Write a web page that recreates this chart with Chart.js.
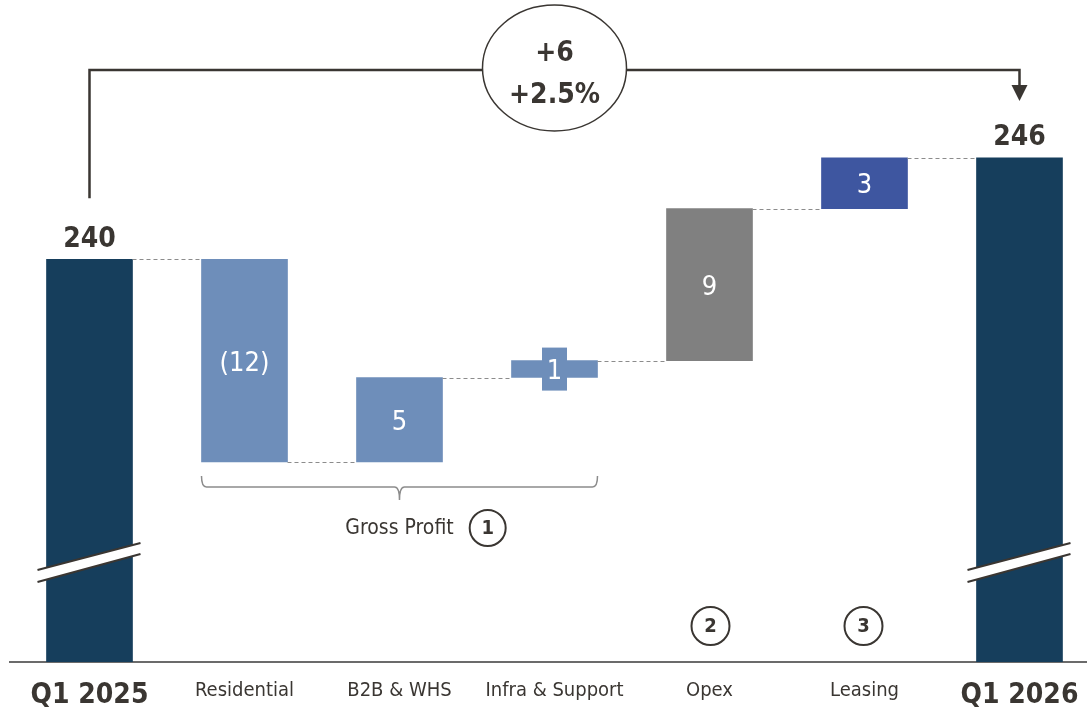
<!DOCTYPE html>
<html>
<head>
<meta charset="utf-8">
<script src="https://cdn.jsdelivr.net/npm/chart.js@4"></script>
<style>
  html, body { margin: 0; padding: 0; background: #fff; }
  canvas { display: block; }
</style>
</head>
<body>
<canvas id="myChart" width="1087" height="709"></canvas>
<script>
const categories = ["Q1 2025", "Residential", "B2B & WHS", "Infra & Support", "Opex", "Leasing", "Q1 2026"];
const startValue = 240;
const endValue = 246;
const changes = [-12, 5, 1, 9, 3];
const changeLabels = ["(12)", "5", "1", "9", "3"];
const totalChange = "+6";
const totalChangePct = "+2.5%";
const barColors = ["#163e5c", "#6e8eba", "#6e8eba", "#6e8eba", "#808080", "#3e56a0", "#163e5c"];

// y axis is cut: bars start from this floor instead of zero
const axisMin = 216.16;
const axisMax = 255.35;

const FONT = "'DejaVu Sans Condensed', 'DejaVu Sans', sans-serif";
const TEXT = "#3a3632";

// build floating bars and the running levels between them
let running = startValue;
const floating = [[axisMin, startValue]];
const levels = [startValue];
changes.forEach(c => {
  floating.push([running, running + c]);
  running += c;
  levels.push(running);
});
floating.push([axisMin, endValue]);

function circledNumber(ctx, text, cx, cy, r) {
  ctx.beginPath();
  ctx.arc(cx, cy, r, 0, Math.PI * 2);
  ctx.lineWidth = 2;
  ctx.strokeStyle = TEXT;
  ctx.stroke();
  ctx.fillStyle = TEXT;
  ctx.font = "bold 20px " + FONT;
  ctx.textAlign = "center";
  ctx.textBaseline = "middle";
  ctx.fillText(text, cx, cy + 1);
}

const waterfallExtras = {
  id: "waterfallExtras",
  afterDatasetsDraw(chart) {
    const ctx = chart.ctx;
    const yScale = chart.scales.y;
    const bars = chart.getDatasetMeta(0).data;
    const area = chart.chartArea;
    ctx.save();

    // dashed connectors between neighbouring bars
    ctx.strokeStyle = "#8c8c8c";
    ctx.lineWidth = 1;
    ctx.setLineDash([4, 3]);
    levels.forEach((lv, i) => {
      const py = Math.round(yScale.getPixelForValue(lv)) + 0.5;
      ctx.beginPath();
      ctx.moveTo(bars[i].x + bars[i].width / 2, py);
      ctx.lineTo(bars[i + 1].x - bars[i + 1].width / 2, py);
      ctx.stroke();
    });
    ctx.setLineDash([]);

    // change labels inside the bars
    ctx.textAlign = "center";
    ctx.textBaseline = "middle";
    changeLabels.forEach((label, k) => {
      const bar = bars[k + 1];
      const cy = (bar.y + bar.base) / 2;
      if (Math.abs(bar.base - bar.y) < 30) {
        ctx.fillStyle = barColors[k + 1];
        ctx.fillRect(bar.x - 12.5, cy - 21.5, 25, 43);
      }
      ctx.fillStyle = "#ffffff";
      ctx.font = "27px " + FONT;
      ctx.fillText(label, bar.x, cy + 3);
    });

    // totals above the end bars
    ctx.fillStyle = TEXT;
    ctx.font = "bold 28px " + FONT;
    ctx.fillText(String(startValue), bars[0].x, bars[0].y - 20);
    ctx.fillText(String(endValue), bars[6].x, bars[6].y - 20);

    // axis break marks on the end bars
    const y0 = yScale.getPixelForValue(222.08);
    [bars[0], bars[6]].forEach(bar => {
      const l = bar.x - 52, r = bar.x + 51;
      ctx.beginPath();
      ctx.moveTo(l, y0 + 8);
      ctx.lineTo(r, y0 - 19);
      ctx.lineTo(r, y0 - 8);
      ctx.lineTo(l, y0 + 20);
      ctx.closePath();
      ctx.fillStyle = "#ffffff";
      ctx.fill();
      ctx.strokeStyle = TEXT;
      ctx.lineWidth = 2;
      ctx.beginPath();
      ctx.moveTo(l, y0 + 8);
      ctx.lineTo(r, y0 - 19);
      ctx.moveTo(l, y0 + 20);
      ctx.lineTo(r, y0 - 8);
      ctx.stroke();
    });

    // bracket from start total to end total with the change bubble
    const lineY = Math.round(yScale.getPixelForValue(251.2));
    const ex = bars[3].x, ey = lineY - 2, rx = 72, ry = 63;
    ctx.strokeStyle = TEXT;
    ctx.lineWidth = 2.5;
    ctx.beginPath();
    ctx.moveTo(bars[0].x, bars[0].y - 61);
    ctx.lineTo(bars[0].x, lineY);
    ctx.lineTo(ex - rx, lineY);
    ctx.moveTo(ex + rx, lineY);
    ctx.lineTo(bars[6].x, lineY);
    ctx.lineTo(bars[6].x, lineY + 16);
    ctx.stroke();
    ctx.fillStyle = TEXT;
    ctx.beginPath();
    ctx.moveTo(bars[6].x - 8, lineY + 15);
    ctx.lineTo(bars[6].x + 8, lineY + 15);
    ctx.lineTo(bars[6].x, lineY + 31);
    ctx.closePath();
    ctx.fill();
    ctx.lineWidth = 1.5;
    ctx.beginPath();
    ctx.ellipse(ex, ey, rx, ry, 0, 0, Math.PI * 2);
    ctx.stroke();
    ctx.font = "bold 28px " + FONT;
    ctx.fillText(totalChange, ex, lineY - 16);
    ctx.fillText(totalChangePct, ex, lineY + 26);

    // brace under the gross profit bars
    const bl = bars[1].x - bars[1].width / 2;
    const br = bars[3].x + bars[3].width / 2;
    const by = bars[1].base + 25;
    const bm = bars[2].x;
    ctx.strokeStyle = "#8c8c8c";
    ctx.lineWidth = 1.5;
    ctx.beginPath();
    ctx.moveTo(bl, by - 11);
    ctx.quadraticCurveTo(bl, by, bl + 5, by);
    ctx.lineTo(bm - 5, by);
    ctx.quadraticCurveTo(bm, by, bm, by + 13);
    ctx.quadraticCurveTo(bm, by, bm + 5, by);
    ctx.lineTo(br - 5, by);
    ctx.quadraticCurveTo(br, by, br, by - 11);
    ctx.stroke();

    ctx.fillStyle = TEXT;
    ctx.font = "21px " + FONT;
    ctx.textBaseline = "middle";
    ctx.fillText("Gross Profit", bm, by + 42);
    const gw = ctx.measureText("Gross Profit").width;
    circledNumber(ctx, "1", bm + gw / 2 + 34, by + 41, 18);
    circledNumber(ctx, "2", bars[4].x + 1, area.bottom - 36, 19);
    circledNumber(ctx, "3", bars[5].x - 1, area.bottom - 36, 19);

    ctx.restore();
  }
};

const ctx = document.getElementById("myChart").getContext("2d");

const myChart = new Chart(ctx, {
  type: "bar",
  data: {
    datasets: [
      {
        data: floating.map((v, i) => ({ x: i, y: v })),
        backgroundColor: barColors,
        borderWidth: 0,
        barThickness: 86
      }
    ]
  },
  options: {
    responsive: false,
    animation: false,
    devicePixelRatio: 1,
    layout: { padding: { left: 10, top: 0, right: 0, bottom: 0 } },
    plugins: {
      legend: { display: false },
      tooltip: { enabled: false }
    },
    scales: {
      x: {
        type: "linear",
        offset: false,
        min: -0.5129,
        max: 6.4355,
        grid: { display: false, drawTicks: false },
        border: { display: true, color: "#6b6b6b", width: 2 },
        afterBuildTicks: scale => {
          scale.ticks = categories.map((c, i) => ({ value: i }));
        },
        afterFit: scale => {
          // labels fit inside the plot, so no extra side padding is needed
          scale.height = 47;
          scale.paddingLeft = 0;
          scale.paddingRight = 0;
        },
        ticks: {
          autoSkip: false,
          maxRotation: 0,
          padding: 17,
          color: TEXT,
          callback: value => categories[value],
          font: c => (c.index === 0 || c.index === categories.length - 1)
            ? { family: FONT, size: 28, weight: "bold" }
            : { family: FONT, size: 20 }
        }
      },
      y: {
        display: false,
        min: axisMin,
        max: axisMax
      }
    }
  },
  plugins: [waterfallExtras]
});
</script>
</body>
</html>
